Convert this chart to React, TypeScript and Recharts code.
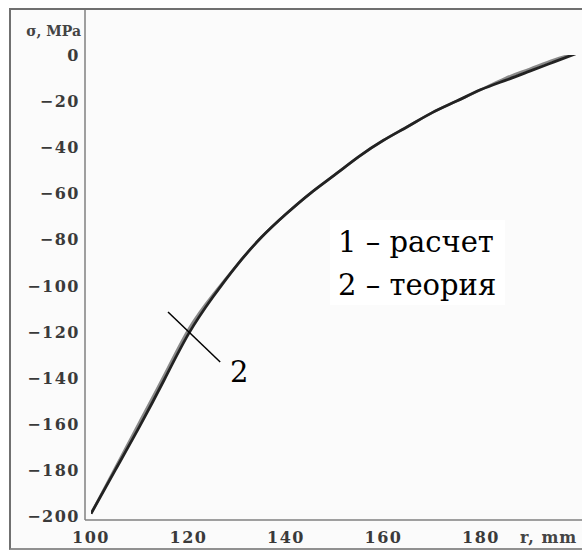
import React from "react";
import { LineChart, Line, XAxis, YAxis, ReferenceLine } from "recharts";

const radii = [100, 105, 110, 115, 120, 125, 130, 135, 140, 145, 150, 155, 160, 165, 170, 175, 180, 185, 190, 195, 200];
const calcStress = [-199, -180, -161, -141, -121, -105, -91, -79, -69, -60, -52, -44, -37, -31, -25, -20, -15, -11, -7, -3, 1];
const theoryStress = [-199, -179, -159, -139, -119, -104, -91, -79, -69, -60, -52, -44, -37, -31, -25, -20, -15, -10, -6, -2, 1];
const xTicks = [100, 120, 140, 160, 180];
const yTicks = [0, -20, -40, -60, -80, -100, -120, -140, -160, -180, -200];
const legendLines = ["1 – расчет", "2 – теория"];
const pointerLabel = "2";
const pointerSegment = [
  { x: 115.8, y: -111.5 },
  { x: 126.5, y: -133.2 },
];

const data = radii.map((r, i) => ({ r, calc: calcStress[i], theory: theoryStress[i] }));

const tickFont = "DejaVu Serif";
const textFont = "DejaVu Serif";

const fmt = (v: number) => (v < 0 ? "\u2212" + Math.abs(v) : String(v));

const YTick = (props: any) => {
  const { y, payload } = props;
  return (
    <text
      x={80}
      y={y + 6}
      textAnchor="end"
      style={{ fontFamily: tickFont, fontSize: 16, letterSpacing: 1.5, fontWeight: 600 }}
      fill="#3a3a3a"
    >
      {fmt(payload.value)}
    </text>
  );
};

const XTick = (props: any) => {
  const { x, y, payload } = props;
  return (
    <text
      x={x}
      y={y + 23}
      textAnchor="middle"
      style={{ fontFamily: tickFont, fontSize: 16, letterSpacing: 1.5, fontWeight: 600 }}
      fill="#3a3a3a"
    >
      {payload.value}
    </text>
  );
};

export default function App() {
  return (
    <div style={{ position: "absolute", left: 0, top: 0, width: 582, height: 550, overflow: "hidden", background: "#fff" }}>
      <div
        style={{
          position: "absolute",
          left: 9,
          top: 8,
          width: 640,
          height: 538,
          borderLeft: "2px solid #707070",
          borderTop: "2px solid #707070",
          borderBottom: "2px solid #909090",
          background: "#fbfbfb",
        }}
      />
      <div style={{ position: "absolute", left: 0, top: 0 }}>
        <LineChart width={600} height={550} data={data} margin={{ top: 10, right: 10, bottom: 0, left: 0 }}>
          <XAxis
            dataKey="r"
            type="number"
            domain={[100, 200]}
            ticks={xTicks}
            height={30}
            padding={{ left: 6, right: 11.5 }}
            tickLine={false}
            tickSize={0}
            tickMargin={0}
            tick={<XTick />}
            axisLine={{ stroke: "#808080", strokeWidth: 1.5 }}
            allowDataOverflow
          />
          <YAxis
            type="number"
            domain={[-200, 0]}
            ticks={yTicks}
            width={85}
            padding={{ top: 45, bottom: 4 }}
            tickLine={false}
            tickSize={0}
            tick={<YTick />}
            axisLine={{ stroke: "#808080", strokeWidth: 1.5 }}
            allowDataOverflow
            interval={0}
          />
          <Line
            type="natural"
            dataKey="theory"
            stroke="#8a8a8a"
            strokeWidth={2.5}
            dot={false}
            isAnimationActive={false}
          />
          <Line
            type="natural"
            dataKey="calc"
            stroke="#222"
            strokeWidth={2.8}
            dot={false}
            isAnimationActive={false}
          />
          <ReferenceLine
            segment={pointerSegment}
            stroke="#000"
            strokeWidth={1.5}
            ifOverflow="visible"
          />
        </LineChart>
      </div>
      <svg width={582} height={550} style={{ position: "absolute", left: 0, top: 0, pointerEvents: "none" }}>
        <text x={81} y={36} textAnchor="end" style={{ fontFamily: tickFont, fontSize: 14, fontWeight: 700 }} fill="#444">
          σ, MPa
        </text>
        <text x={520} y={543} style={{ fontFamily: tickFont, fontSize: 16, fontWeight: 700, letterSpacing: 1 }} fill="#444">
          r, mm
        </text>
        <rect x={330} y={220} width={175} height={85} fill="#fff" />
        <text x={338} y={252} style={{ fontFamily: textFont, fontSize: 29 }} fill="#000">
          {legendLines[0]}
        </text>
        <text x={338} y={295} style={{ fontFamily: textFont, fontSize: 29 }} fill="#000">
          {legendLines[1]}
        </text>
        <text x={230} y={382} style={{ fontFamily: textFont, fontSize: 29 }} fill="#000">
          {pointerLabel}
        </text>
      </svg>
    </div>
  );
}
